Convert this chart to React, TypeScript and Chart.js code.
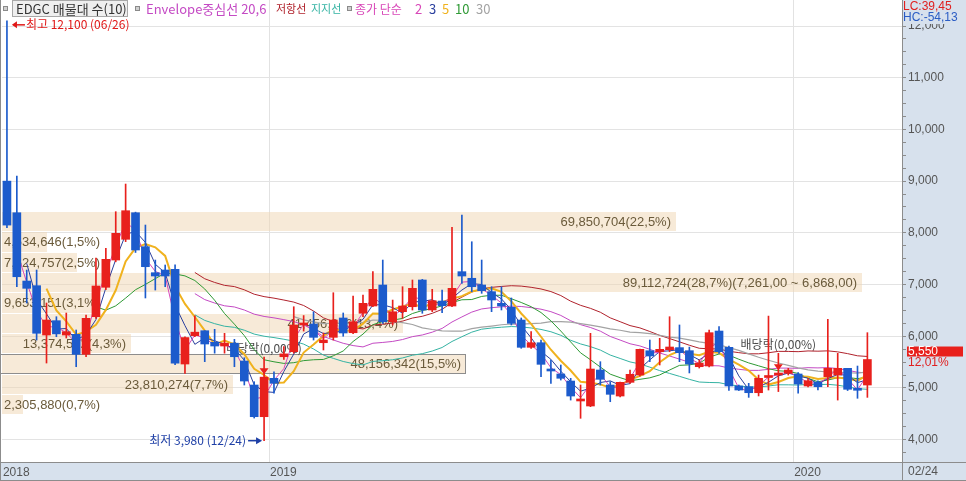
import React, { useEffect, useRef } from 'react';
import { Chart, registerables } from 'chart.js';

Chart.register(...registerables);

// ---------- DATA ----------
const dates: string[] = [
  '2018/06/25', '2018/07/02', '2018/07/09', '2018/07/16', '2018/07/23', '2018/07/30',
  '2018/08/06', '2018/08/13', '2018/08/20', '2018/08/27', '2018/09/03', '2018/09/10',
  '2018/09/17', '2018/09/27', '2018/10/01', '2018/10/08', '2018/10/15', '2018/10/22',
  '2018/10/29', '2018/11/05', '2018/11/12', '2018/11/19', '2018/11/26', '2018/12/03',
  '2018/12/10', '2018/12/17', '2018/12/24',
  '2019/01/02', '2019/01/07', '2019/01/14', '2019/01/21', '2019/01/28', '2019/02/07',
  '2019/02/11', '2019/02/18', '2019/02/25', '2019/03/04', '2019/03/11', '2019/03/18',
  '2019/03/25', '2019/04/01', '2019/04/08', '2019/04/15', '2019/04/22', '2019/04/29',
  '2019/05/07', '2019/05/13', '2019/05/20', '2019/05/27', '2019/06/03', '2019/06/10',
  '2019/06/17', '2019/06/24', '2019/07/01', '2019/07/08', '2019/07/15', '2019/07/22',
  '2019/07/29', '2019/08/05', '2019/08/12', '2019/08/19', '2019/08/26', '2019/09/02',
  '2019/09/09', '2019/09/16', '2019/09/23', '2019/09/30', '2019/10/07', '2019/10/14',
  '2019/10/21', '2019/10/28', '2019/11/04', '2019/11/11', '2019/11/18', '2019/11/25',
  '2019/12/02', '2019/12/09', '2019/12/16', '2019/12/23', '2019/12/30',
  '2020/01/06', '2020/01/13', '2020/01/20', '2020/01/28', '2020/02/03', '2020/02/10',
  '2020/02/17', '2020/02/24',
];
const emptyCategories = 3;

const opens: number[] = [
  9000, 8389, 7068, 6978, 6024, 6301, 6024, 6037, 5651, 6378,
  6947, 7474, 7875, 8389, 7732, 7229, 7281, 7295, 5463, 6011,
  6107, 5883, 5811, 5866, 5521, 5057, 4444, 5186, 5604, 5701,
  6218, 6237, 5875, 5979, 6353, 6068, 6444, 6585, 6991, 6281,
  6475, 6571, 7088, 6508, 6681, 6585, 7249, 7121, 6991, 6862,
  6637, 6560, 6314, 5786, 5875, 5361, 5270, 5134, 4748, 4651,
  5347, 5057, 4844, 5109, 5250, 5720, 5701, 5740, 5780, 5721,
  5411, 5425, 6101, 5786, 5038, 5024, 4908, 5202, 5250, 5283,
  5270, 5038, 5115, 5218, 5250, 5380, 4993, 5057,
];
const highs: number[] = [
  12100, 9099, 7281, 7281, 6643, 6378, 6449, 6121, 6411, 7513,
  7701, 8409, 8944, 8400, 8151, 7474, 7378, 7380, 5990, 6397,
  6107, 6134, 6057, 5941, 5585, 5121, 5595, 5314, 5800, 6571,
  6400, 6475, 6063, 6842, 6450, 6778, 6798, 7249, 7474, 6700,
  6958, 7088, 7100, 6908, 6894, 8106, 8345, 7828, 7474, 6958,
  6958, 6740, 6353, 6088, 5927, 5540, 5444, 5186, 5057, 6057,
  5508, 5121, 5115, 5347, 5753, 5927, 5960, 6378, 6218, 5790,
  5540, 6120, 6185, 5810, 5057, 5090, 5250, 6390, 5670, 5380,
  5295, 5180, 5140, 6327, 5670, 5380, 5424, 6069,
];
const lows: number[] = [
  8100, 6958, 6643, 5927, 5482, 5991, 5966, 5411, 5604, 6347,
  6900, 7440, 7830, 7620, 6740, 6894, 6958, 5450, 5283, 5990,
  5508, 5673, 5673, 5411, 5057, 4418, 3980, 4899, 5550, 5672,
  6100, 5927, 5734, 5927, 6000, 6050, 6378, 6571, 6250, 6218,
  6347, 6507, 6444, 6475, 6455, 6571, 7024, 6862, 6830, 6475,
  6508, 6218, 5767, 5767, 5217, 5090, 5153, 4766, 4413, 4638,
  5057, 4734, 4825, 5090, 5230, 5508, 5444, 5701, 5508, 5290,
  5385, 5405, 5670, 4950, 4950, 4818, 4845, 4960, 4930, 5250,
  4900, 5020, 4960, 5024, 4766, 4950, 4800, 4818,
];
const closes: number[] = [
  8150, 7151, 6927, 6057, 6314, 6046, 6088, 5651, 6347, 6972,
  7488, 7991, 8428, 7668, 7345, 7165, 7165, 5477, 5975, 6079,
  5850, 5811, 5866, 5604, 5134, 4444, 5209, 5090, 5659, 6218,
  6250, 5979, 5927, 6314, 6063, 6281, 6637, 6908, 6281, 6474,
  6585, 6927, 6508, 6688, 6590, 6927, 7165, 6958, 6881, 6701,
  6585, 6250, 5786, 5875, 5457, 5328, 5187, 4844, 4780, 5366,
  5167, 4877, 5109, 5264, 5747, 5618, 5747, 5792, 5682, 5463,
  5482, 6069, 5701, 5038, 4960, 4908, 5186, 5234, 5283, 5347,
  5076, 5140, 5024, 5380, 5380, 4974, 4955, 5550,
];

// volume profile (매물대), top band first
const profileHighs: number[] = [8440, 8047, 7654, 7261, 6868, 6475, 6082, 5689, 5296, 4903];
const profileLows: number[] = [8047, 7654, 7261, 6868, 6475, 6082, 5689, 5296, 4903, 4510];
const profileVolumes: number[] = [69850704, 4634646, 7624757, 89112724, 9653151, 41456856, 13374512, 48156342, 23810274, 2305880];
const profilePercents: number[] = [22.5, 1.5, 2.5, 28.7, 3.1, 13.4, 4.3, 15.5, 7.7, 0.7];

const dividendIndexes: number[] = [26, 78];
const dividendText = '배당락(0,00%)';
const highDateText = '06/26';
const lowDateText = '12/24';

const maPeriods: number[] = [2, 3, 5, 10, 30];
const envelopePeriod = 20;
const envelopePct = 6;

// y axis range and tick step
const yMin = 3568;
const yMax = 12503;
const yStep = 250;

// ---------- STYLE ----------
const RED = '#e8201c';
const BLUE = '#1c5bcc';
const AXIS_BG = '#d7e1ed';
const BAND = 'rgba(240, 214, 178, 0.5)';
const BAND_TEXT = '#6a5a3a';
const maColors: Record<number, string> = { 2: '#d847b8', 3: '#2a3f9e', 5: '#f0b21e', 10: '#2f9a35', 30: '#a3a3a3' };
const maWidths: Record<number, number> = { 2: 1, 3: 1, 5: 2, 10: 1, 30: 1.2 };
const ENV_MID = '#c44ac4';
const ENV_UP = '#b0222c';
const ENV_DN = '#35b3a3';

const NUMFONT = '"Liberation Sans", Arial, sans-serif';
const KRFONT = '"Noto Sans CJK KR", "Noto Sans", sans-serif';

// ---------- HELPERS ----------
const fmtInt = (v: number) => Math.round(v).toString().replace(/\B(?=(\d{3})+(?!\d))/g, ',');
const fmtDec = (v: number, d: number) => {
  const s = v.toFixed(d);
  const [ip, fp] = s.split('.');
  const neg = ip.startsWith('-');
  const body = fmtInt(Math.abs(Number(ip)));
  return (neg ? '-' : '') + body + (fp !== undefined ? ',' + fp : '');
};
const sma = (arr: number[], n: number) =>
  arr.map((_, i) => {
    if (i < n - 1) return null;
    let s = 0;
    for (let k = i - n + 1; k <= i; k++) s += arr[k];
    return s / n;
  });

const labels = [...dates, ...Array(emptyCategories).fill('')];
const yearOf = (i: number) => (dates[i] ? dates[i].slice(0, 4) : '');
const isYearStart = (i: number) => i > 0 && i < dates.length && yearOf(i) !== yearOf(i - 1);

const candleColors = closes.map((c, i) => (c >= opens[i] ? RED : BLUE));

const env = sma(closes, envelopePeriod);
const envUp = env.map((v) => (v === null ? null : v * (1 + envelopePct / 100)));
const envDn = env.map((v) => (v === null ? null : v * (1 - envelopePct / 100)));

const lineDs = (data: (number | null)[], color: string, width: number, order: number) => ({
  type: 'line' as const,
  data,
  borderColor: color,
  backgroundColor: color,
  borderWidth: width,
  pointRadius: 0,
  pointHoverRadius: 0,
  tension: 0,
  spanGaps: false,
  order,
});

const decoPlugin = {
  id: 'deco',
  beforeDraw(chart: any) {
    const { ctx, chartArea: a, width, height } = chart;
    ctx.save();
    ctx.fillStyle = '#ffffff';
    ctx.fillRect(0, 0, width, height);
    ctx.fillStyle = AXIS_BG;
    ctx.fillRect(a.right, 0, width - a.right, height);
    ctx.fillRect(0, a.bottom, width, height - a.bottom);
    ctx.restore();
  },
  beforeDatasetsDraw(chart: any) {
    const { ctx, chartArea: a, scales } = chart;
    const y = scales.y;
    const x = scales.x;
    const maxPct = Math.max(...profilePercents);
    const fullW = (a.right - a.left) * 0.955;
    const last = closes[closes.length - 1];
    ctx.save();
    ctx.font = `13px ${NUMFONT}`;
    ctx.textBaseline = 'middle';
    ctx.textAlign = 'left';
    for (let k = 0; k < profileVolumes.length; k++) {
      const top = Math.round(y.getPixelForValue(profileHighs[k]) + 2);
      const bot = Math.round(y.getPixelForValue(profileLows[k]) + 2);
      const w = Math.round((fullW * profilePercents[k]) / maxPct);
      ctx.fillStyle = BAND;
      ctx.fillRect(a.left, top, w, bot - top - 1);
      if (last < profileHighs[k] && last >= profileLows[k]) {
        ctx.strokeStyle = '#8d8d8d';
        ctx.lineWidth = 1;
        ctx.strokeRect(a.left - 1.5, top + 0.5, w + 1, bot - top - 2);
      }
      let label = `${fmtInt(profileVolumes[k])}(${fmtDec(profilePercents[k], 1)}%)`;
      if (profilePercents[k] === maxPct) {
        label += `(${fmtDec(profileHighs[k], 2)} ~ ${fmtDec(profileLows[k], 2)})`;
      }
      const tw = ctx.measureText(label).width;
      const tx = Math.max(a.left + 2, a.left + w - 5 - tw);
      ctx.fillStyle = BAND_TEXT;
      ctx.fillText(label, tx, (top + bot) / 2);
    }
    ctx.font = `12px ${KRFONT}`;
    ctx.textAlign = 'center';
    ctx.fillStyle = '#4a4a4a';
    for (const i of dividendIndexes) {
      const px = x.getPixelForValue(i);
      const py = y.getPixelForValue(Math.max(opens[i], closes[i]));
      ctx.fillText(dividendText, px, py - 29);
    }
    ctx.restore();
  },
  afterDatasetsDraw(chart: any) {
    const { ctx, scales } = chart;
    const y = scales.y;
    const x = scales.x;
    ctx.save();
    ctx.fillStyle = RED;
    for (const i of dividendIndexes) {
      const px = x.getPixelForValue(i);
      const py = y.getPixelForValue(Math.max(opens[i], closes[i]));
      ctx.beginPath();
      ctx.moveTo(px - 4.5, py - 9);
      ctx.lineTo(px + 4.5, py - 9);
      ctx.lineTo(px, py - 3);
      ctx.closePath();
      ctx.fill();
    }
    ctx.restore();
  },
  afterDraw(chart: any) {
    const { ctx, chartArea: a, scales, width, height } = chart;
    const y = scales.y;
    const x = scales.x;
    ctx.save();

    // frame lines
    ctx.strokeStyle = '#8c8c8c';
    ctx.lineWidth = 1;
    ctx.beginPath();
    ctx.moveTo(a.right + 0.5, 0);
    ctx.lineTo(a.right + 0.5, height);
    ctx.moveTo(0, a.bottom + 0.5);
    ctx.lineTo(width, a.bottom + 0.5);
    ctx.moveTo(0, height - 0.5);
    ctx.lineTo(width, height - 0.5);
    ctx.moveTo(0.5, 0);
    ctx.lineTo(0.5, height);
    ctx.stroke();

    // legend row
    ctx.textBaseline = 'middle';
    ctx.textAlign = 'left';
    const sq = (sx: number) => {
      ctx.fillStyle = '#d0d0d0';
      ctx.fillRect(sx, 6, 5, 5);
      ctx.strokeStyle = '#8a8a8a';
      ctx.strokeRect(sx + 0.5, 6.5, 4, 4);
    };
    sq(3);
    ctx.fillStyle = '#efefef';
    ctx.fillRect(12, 0, 116, 17);
    ctx.strokeStyle = '#a8a8a8';
    ctx.strokeRect(12.5, 0.5, 115, 16);
    ctx.font = `13px ${KRFONT}`;
    ctx.fillStyle = '#333333';
    ctx.fillText('EDGC 매물대 수(10)', 16, 9);
    sq(135);
    ctx.fillStyle = ENV_MID;
    ctx.fillText(`Envelope중심선 ${envelopePeriod},${envelopePct}`, 146, 9);
    ctx.font = `11px ${KRFONT}`;
    ctx.fillStyle = ENV_UP;
    ctx.fillText('저항선', 276, 9);
    ctx.fillStyle = ENV_DN;
    ctx.fillText('지지선', 311, 9);
    sq(347);
    ctx.font = `12px ${KRFONT}`;
    ctx.fillStyle = maColors[2];
    ctx.fillText('종가 단순', 355, 9);
    ctx.font = `13px ${KRFONT}`;
    const maX = [415, 429, 442, 455, 476];
    maPeriods.forEach((p, k) => {
      ctx.fillStyle = maColors[p];
      ctx.fillText(String(p), maX[k], 9);
    });

    // highest / lowest annotations
    let hi = -Infinity, hiI = 0, lo = Infinity, loI = 0;
    highs.forEach((v, i) => { if (v > hi) { hi = v; hiI = i; } });
    lows.forEach((v, i) => { if (v < lo) { lo = v; loI = i; } });
    ctx.font = `12px ${KRFONT}`;
    const hx = x.getPixelForValue(hiI);
    const hy = y.getPixelForValue(hi) + 4;
    ctx.strokeStyle = '#e01818';
    ctx.fillStyle = '#e01818';
    ctx.lineWidth = 1.5;
    ctx.beginPath();
    ctx.moveTo(hx + 6, hy);
    ctx.lineTo(hx + 18, hy);
    ctx.stroke();
    ctx.beginPath();
    ctx.moveTo(hx + 5, hy);
    ctx.lineTo(hx + 10, hy - 3.5);
    ctx.lineTo(hx + 10, hy + 3.5);
    ctx.closePath();
    ctx.fill();
    ctx.fillText(`최고 ${fmtInt(hi)} (${highDateText})`, hx + 19, hy);

    const lx = x.getPixelForValue(loI);
    const ly = y.getPixelForValue(lo);
    ctx.strokeStyle = '#1e3fa6';
    ctx.fillStyle = '#1e3fa6';
    ctx.beginPath();
    ctx.moveTo(lx - 16, ly);
    ctx.lineTo(lx - 4, ly);
    ctx.stroke();
    ctx.beginPath();
    ctx.moveTo(lx - 2, ly);
    ctx.lineTo(lx - 8, ly - 3.5);
    ctx.lineTo(lx - 8, ly + 3.5);
    ctx.closePath();
    ctx.fill();
    ctx.textAlign = 'right';
    ctx.fillText(`최저 ${fmtInt(lo)} (${lowDateText})`, lx - 18, ly);

    // right axis texts
    const last = closes[closes.length - 1];
    const prev = closes[closes.length - 2];
    ctx.textAlign = 'left';
    ctx.fillStyle = AXIS_BG;
    ctx.fillRect(a.right + 1, 0, width - a.right - 1, 24);
    ctx.font = `12px ${NUMFONT}`;
    ctx.fillStyle = '#e02020';
    ctx.fillText(`LC:${fmtDec((last / lo - 1) * 100, 2)}`, a.right + 1, 7);
    ctx.fillStyle = '#2a5cc4';
    ctx.fillText(`HC:${fmtDec((last / hi - 1) * 100, 2)}`, a.right + 1, 18);

    const py = y.getPixelForValue(last);
    ctx.fillStyle = '#e8201c';
    ctx.fillRect(a.right + 5, py - 13, 56, 10);
    ctx.fillStyle = '#ffffff';
    ctx.fillText(fmtInt(last), a.right + 6, py - 8);
    ctx.fillStyle = '#e02020';
    ctx.fillText(`${fmtDec((last / prev - 1) * 100, 2)}%`, a.right + 6, py + 3);

    ctx.fillStyle = '#555555';
    ctx.fillText(dates[dates.length - 1].slice(5), a.right + 6, a.bottom + 10);

    ctx.restore();
  },
};

export default function App() {
  const ref = useRef<HTMLCanvasElement>(null);
  useEffect(() => {
    document.body.style.margin = '0';
    const canvas = ref.current;
    if (!canvas) return;
    const datasets: any[] = [
      {
        type: 'bar',
        data: opens.map((o, i) => [o, closes[i]]),
        backgroundColor: candleColors,
        barThickness: 8,
        minBarLength: 2,
        grouped: false,
        order: 0,
      },
      {
        type: 'bar',
        data: lows.map((l, i) => [l, highs[i]]),
        backgroundColor: candleColors,
        barThickness: 1,
        grouped: false,
        order: 1,
      },
      lineDs(sma(closes, 2), maColors[2], maWidths[2], 2),
      lineDs(sma(closes, 3), maColors[3], maWidths[3], 3),
      lineDs(sma(closes, 5), maColors[5], maWidths[5], 4),
      lineDs(sma(closes, 10), maColors[10], maWidths[10], 5),
      lineDs(sma(closes, 30), maColors[30], maWidths[30], 6),
      lineDs(env, ENV_MID, 1, 7),
      lineDs(envUp, ENV_UP, 1, 8),
      lineDs(envDn, ENV_DN, 1, 9),
    ];
    const chart = new Chart(canvas, {
      type: 'bar',
      data: { labels, datasets },
      options: {
        responsive: false,
        animation: false,
        devicePixelRatio: 1,
        events: [],
        layout: { padding: { left: 2, right: 0, top: 0, bottom: 0 } },
        plugins: { legend: { display: false }, tooltip: { enabled: false } },
        scales: {
          x: {
            type: 'category',
            offset: true,
            grid: {
              offset: true,
              drawTicks: false,
              color: (c: any) => (isYearStart(c.index) ? '#e2e2e2' : 'rgba(0,0,0,0)'),
            },
            border: { display: false },
            ticks: {
              autoSkip: false,
              maxRotation: 0,
              minRotation: 0,
              align: 'start',
              labelOffset: -4,
              padding: 3,
              color: '#555555',
              font: { family: NUMFONT, size: 12 },
              callback: (_v: any, i: number) => (i === 0 || isYearStart(i) ? yearOf(i) : ''),
            },
            afterFit: (s: any) => {
              s.height = 19;
              s.paddingLeft = 0;
              s.paddingRight = 0;
            },
          },
          y: {
            type: 'linear',
            position: 'right',
            min: yMin,
            max: yMax,
            grid: {
              color: (c: any) => (c.tick && c.tick.value % 1000 === 0 ? '#e3e3e3' : 'rgba(0,0,0,0)'),
              tickColor: '#8c8c8c',
              tickLength: 4,
            },
            border: { display: false },
            ticks: {
              stepSize: yStep,
              includeBounds: false,
              autoSkip: false,
              padding: 2,
              color: '#555555',
              font: { family: NUMFONT, size: 12 },
              callback: (v: any) => (Number(v) % 1000 === 0 ? fmtInt(Number(v)) : ''),
            },
            afterFit: (s: any) => {
              s.width = 64;
              s.paddingTop = 0;
              s.paddingBottom = 0;
            },
          },
        },
      } as any,
      plugins: [decoPlugin],
    });
    return () => chart.destroy();
  }, []);
  return (
    <div style={{ width: 966, height: 481 }}>
      <canvas ref={ref} width={966} height={481} style={{ display: 'block', width: 966, height: 481 }} />
    </div>
  );
}
